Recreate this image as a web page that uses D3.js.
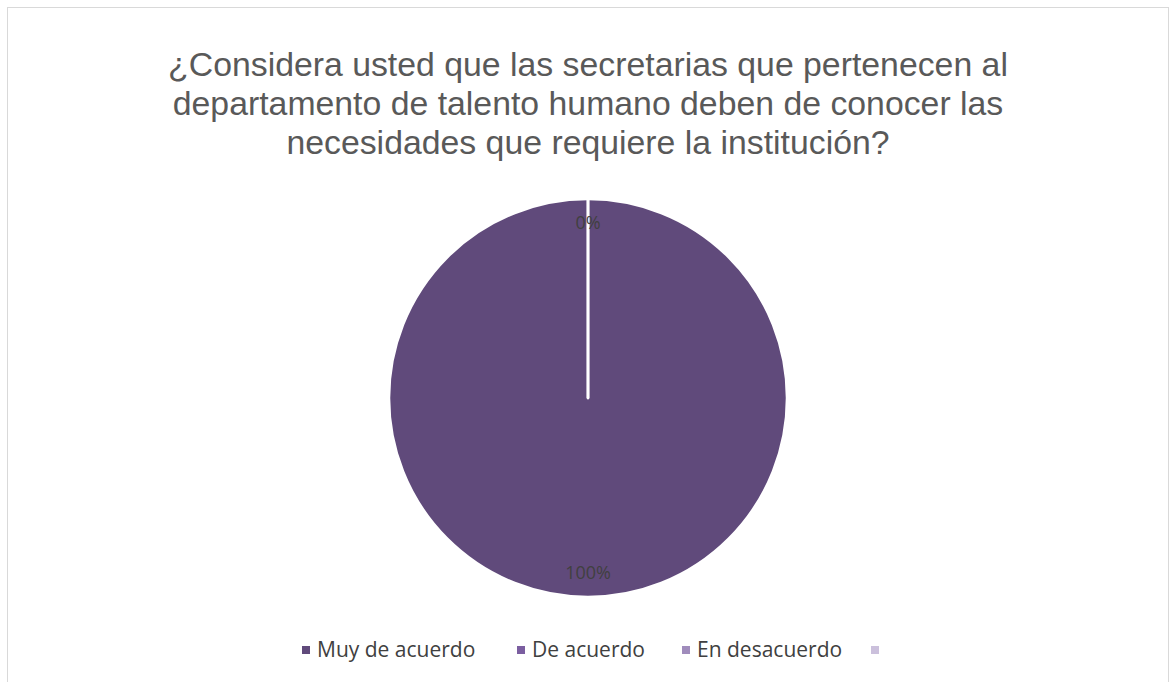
<!DOCTYPE html>
<html>
<head>
<meta charset="utf-8">
<script src="https://cdn.jsdelivr.net/npm/d3@7"></script>
<style>
  body { margin: 0; background: #fff; }
  svg text { font-family: "Open Sans", "Noto Sans", sans-serif; }
  svg text.title { font-family: "Liberation Sans", Arial, sans-serif; }
</style>
</head>
<body>
<svg id="vis" width="1176" height="682"></svg>
<script>
const titleLines = [
  '¿Considera usted que las secretarias que pertenecen al',
  'departamento de talento humano deben de conocer las',
  'necesidades que requiere la institución?'
];
const categories = ['Muy de acuerdo', 'De acuerdo', 'En desacuerdo', ''];
const values = [100, 0, 0, 0];
const colors = ['#604a7b', '#7b5ea0', '#a08cbc', '#cbc0dc'];

const vis = d3.select('#vis');

// chart frame
vis.append('rect')
  .attr('x', 7.5).attr('y', 7.5)
  .attr('width', 1161).attr('height', 700)
  .attr('fill', '#fff')
  .attr('stroke', '#d9d9d9');

// title, one text per line; size fitted so line 2 is ~844px wide
const title = vis.append('g');
const tl = title.selectAll('text')
  .data(titleLines)
  .enter().append('text')
    .attr('class', 'title')
    .attr('text-anchor', 'middle')
    .attr('fill', '#595959')
    .attr('x', 588)
    .attr('y', (d, i) => 76 + i * 39)
    .style('font-size', '32px')
    .text(d => d);
const w2 = tl.nodes()[1].getComputedTextLength();
const fs = Math.min(33.8, 32 * 844 / w2);
tl.style('font-size', fs + 'px');

const cx = 588, cy = 398, r = 199;
const data = categories.map((c, i) => ({cat: c, value: values[i], color: colors[i]}));
const total = d3.sum(values);

const pie = d3.pie().sort(null).value(d => d.value);
const arc = d3.arc().innerRadius(0).outerRadius(r);

const g = vis.append('g').attr('transform', `translate(${cx},${cy})`);
const arcs = pie(data);

g.selectAll('path')
  .data(arcs)
  .enter().append('path')
    .attr('d', arc)
    .attr('fill', d => d.data.color)
    .attr('stroke', '#fff')
    .attr('stroke-width', 2.5)
    .attr('stroke-linejoin', 'round');

// only the first slice and one zero slice get labels, as in the original
const labelled = arcs.filter((d, i) => i < 2);
g.selectAll('text.lbl')
  .data(labelled)
  .enter().append('text')
    .attr('class', 'lbl')
    .attr('transform', d => {
      const a = d.value === 0 ? 0 : (d.startAngle + d.endAngle) / 2;
      const rr = r * 0.88;
      return `translate(${Math.sin(a) * rr},${-Math.cos(a) * rr})`;
    })
    .attr('text-anchor', 'middle')
    .attr('dy', '0.35em')
    .attr('fill', '#404040')
    .style('font-size', '18px')
    .text(d => d3.format('.0%')(d.value / total));

// legend
const legendX = [302, 517, 682, 871];
const legend = vis.append('g');
const item = legend.selectAll('g')
  .data(data)
  .enter().append('g')
    .attr('transform', (d, i) => `translate(${legendX[i]},650)`);
item.append('rect')
  .attr('x', 0).attr('y', -4)
  .attr('width', 8).attr('height', 8)
  .attr('fill', d => d.color);
item.append('text')
  .attr('x', 15)
  .attr('dy', '0.35em')
  .attr('fill', '#404040')
  .style('font-size', '21px')
  .text(d => d.cat);
</script>
</body>
</html>
